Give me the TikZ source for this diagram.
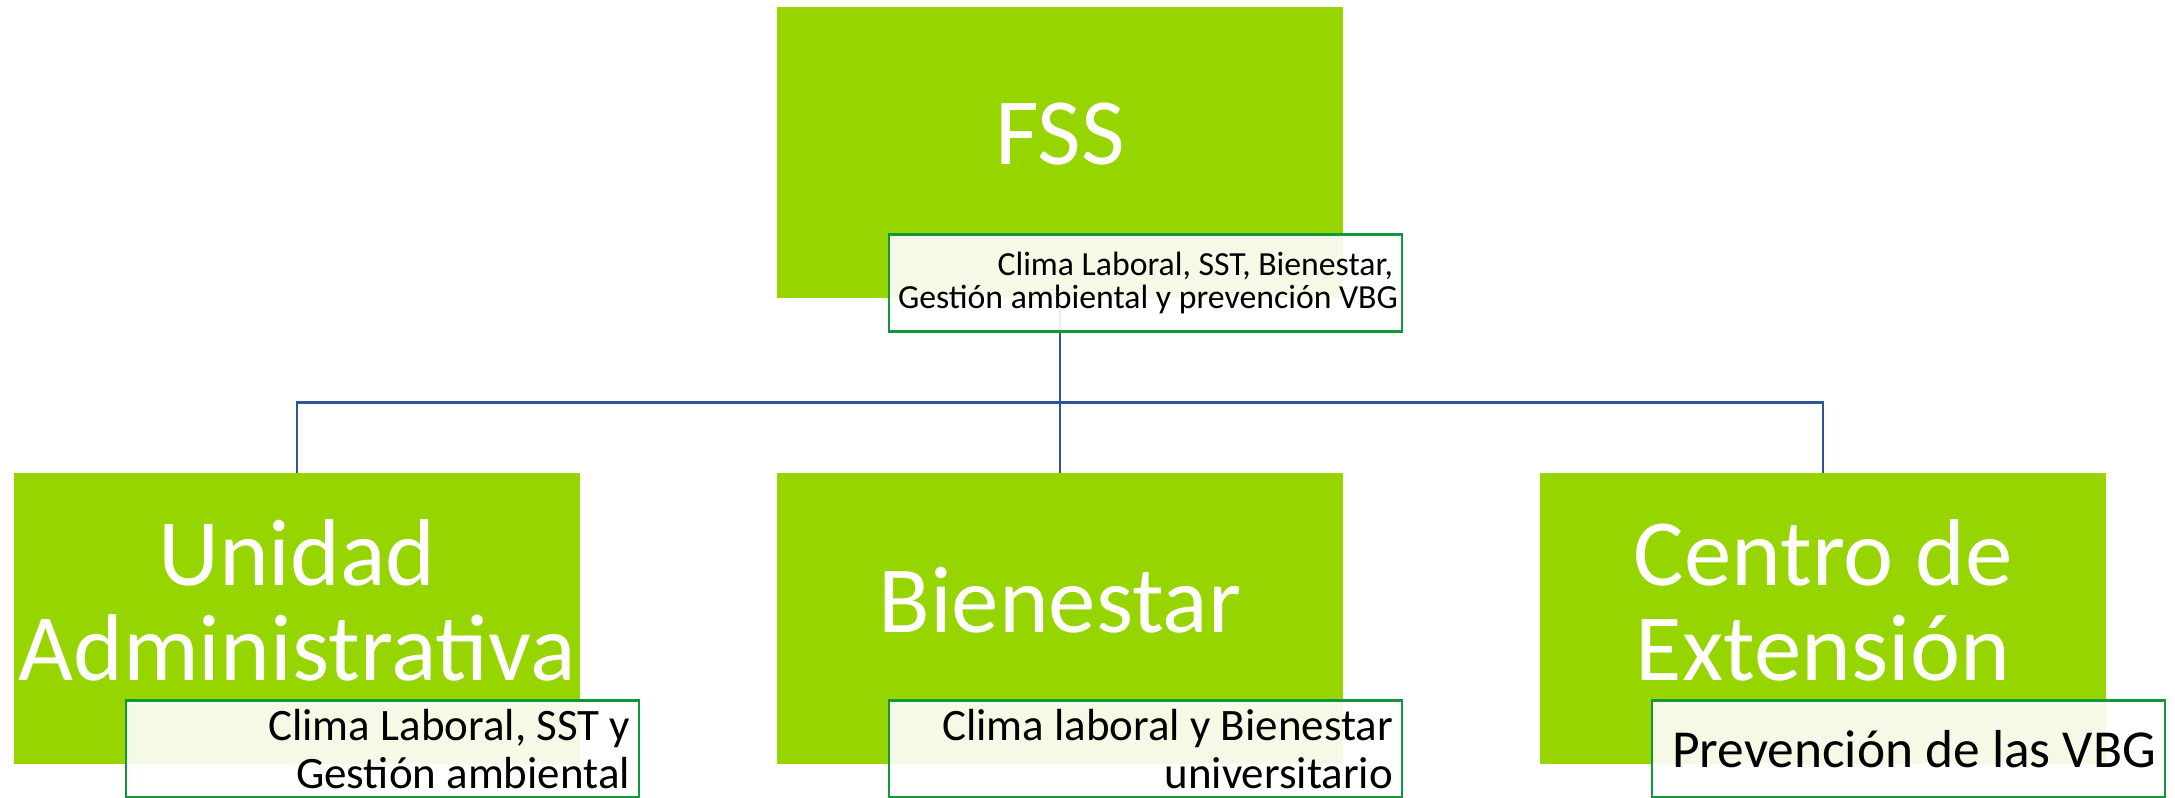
\documentclass[tikz,border=0pt]{standalone}
\usepackage{fontspec}
\setmainfont{Carlito}
\usepackage{xcolor}
\usetikzlibrary{positioning}

\definecolor{leaf}{RGB}{150,213,0}
\definecolor{notegreen}{RGB}{20,150,60}
\definecolor{linkblue}{RGB}{47,85,151}

\begin{document}
\begin{tikzpicture}[
    node distance=1.75cm and 1.97cm,
    unit/.style={fill=leaf, minimum width=5.66cm, minimum height=2.91cm, inner sep=0pt, outer sep=0pt, text=white, align=center, text depth=0.38cm, font=\fontsize{27}{27}\selectfont},
    note/.style={draw=notegreen, line width=0.8pt, fill=white, fill opacity=0.9, text opacity=1, minimum width=5.13cm, minimum height=0.97cm, text width=4.95cm, inner xsep=0.09cm, inner ysep=0pt, outer sep=0pt, align=flush right, anchor=north west}
    ,link/.style={draw=linkblue, line width=0.6pt}
]
\useasboundingbox (0,0) rectangle (21.75,7.98);

% Units
\node[unit] (fss) at (10.60,6.45) {FSS};
\node[unit, below=of fss] (bienestar) {Bienestar};
\node[unit, left=of bienestar] (unidad) {Unidad\\Administrativa};
\node[unit, right=of bienestar] (centro) {Centro de\\Extensión};

% Connectors
\coordinate[below=1.04cm of fss.south] (bus);
\draw[link] (fss.south) -- (bienestar.north);
\draw[link] (unidad.north) |- (bus) -| (centro.north);

% Notes
\node[note, font=\fontsize{9.6}{9.6}\selectfont] (fssnote) at ([shift={(1.12cm,0.64cm)}]fss.south west) {\mbox{Clima Laboral, SST, Bienestar,}\\\mbox{Gestión ambiental y prevención VBG}};
\node[note, font=\fontsize{12.8}{13.7}\selectfont] (unidadnote) at ([shift={(1.12cm,0.64cm)}]unidad.south west) {\mbox{Clima Laboral, SST y}\\\mbox{Gestión ambiental}};
\node[note, font=\fontsize{12.8}{13.7}\selectfont] (bienestarnote) at ([shift={(1.12cm,0.64cm)}]bienestar.south west) {\mbox{Clima laboral y Bienestar}\\\mbox{universitario}};
\node[note, font=\fontsize{15.2}{16}\selectfont] (centronote) at ([shift={(1.12cm,0.64cm)}]centro.south west) {\mbox{Prevención de las VBG}};

\end{tikzpicture}
\end{document}
